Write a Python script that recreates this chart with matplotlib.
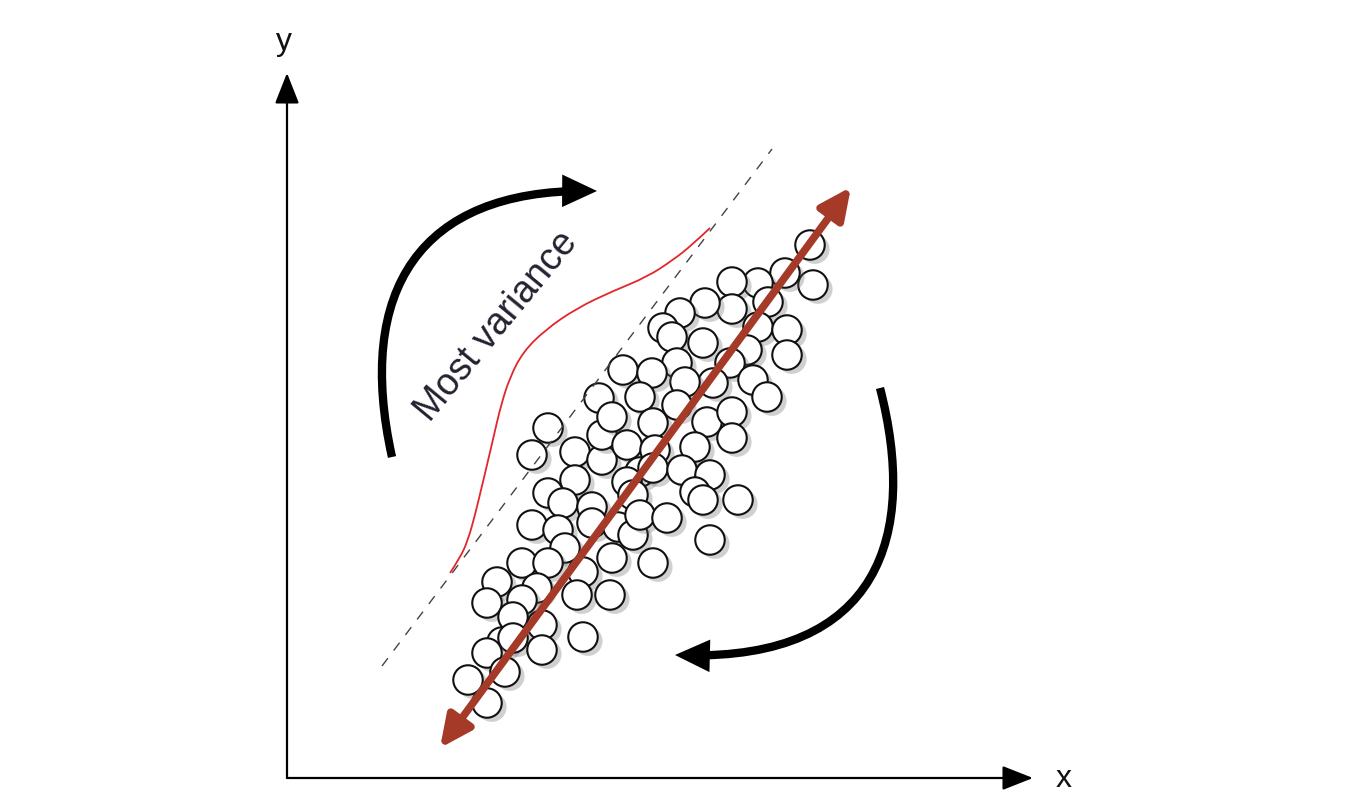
import matplotlib
matplotlib.use("Agg")
import matplotlib.pyplot as plt
from matplotlib.patches import FancyArrowPatch, PathPatch
from matplotlib.path import Path
import matplotlib.patheffects as pe

# ---- data (pixel-space diagram coordinates, y downwards) ----
circle_x = [810, 813, 785, 758, 732, 768, 732, 705, 680, 663, 672, 703, 758, 787, 787,
            747, 730, 753, 767, 713, 677, 685, 623, 652, 640, 599,
            548, 532, 575, 602, 602, 612, 627, 653, 677, 707, 732, 732, 695, 655,
            640, 653, 682, 710, 575, 548, 563, 592, 627, 633, 695, 703, 738, 532,
            558, 592, 565, 618, 633, 640, 667, 710, 522, 548, 612, 653, 583,
            497, 537, 522, 577, 610, 487, 513, 542, 583, 502, 513, 487, 542, 505,
            468, 487]
circle_y = [245, 285, 273, 283, 282, 302, 309, 303, 313, 328, 337, 343, 327, 330, 355,
            350, 363, 380, 397, 383, 363, 382, 370, 373, 397, 398,
            428, 455, 452, 460, 435, 417, 445, 423, 405, 422, 412, 438, 447, 450,
            472, 468, 470, 475, 480, 493, 503, 507, 482, 495, 492, 500, 500, 525,
            530, 523, 548, 527, 535, 515, 518, 540, 563, 563, 558, 563, 572,
            582, 588, 600, 595, 595, 603, 617, 625, 637, 642, 638, 653, 650, 672,
            680, 703]

# red distribution curve
curve_x = [450, 460, 468, 475, 481, 487, 494, 501, 510, 523, 545, 577, 613, 647, 673, 692, 710]
curve_y = [573, 558, 540, 515, 490, 465, 435, 405, 377, 352, 330, 308, 291, 277, 260, 245, 228]

# principal axis (double arrow) end points and dashed guide line
pc_start, pc_end = (440, 748), (851, 187)
dash_start, dash_end = (382, 666), (772, 149)

# axes
origin = (287, 778)
y_tip = (287, 73)
x_tip = (1033, 778)

# curved rotation arrows (cubic Bezier control points)
left_arrow = [(392, 457), (355, 290), (420, 190), (597, 191)]
right_arrow = [(880, 388), (918, 535), (880, 660), (675, 655)]

label_text = "Most variance"
label_pos = (430, 423)

# ---- figure ----
fig = plt.figure(figsize=(13.5, 8), dpi=100)
ax = fig.add_axes([0, 0, 1, 1])
ax.set_xlim(0, 1350)
ax.set_ylim(800, 0)
ax.axis("off")

FONT = ["Liberation Sans", "DejaVu Sans"]

# axes arrows
for tip in (y_tip, x_tip):
    ax.add_patch(FancyArrowPatch(origin, tip, arrowstyle="-|>,head_length=19,head_width=7.5",
                                 mutation_scale=1, lw=1.6, color="black",
                                 shrinkA=0, shrinkB=0, zorder=2))
ax.text(284, 42, "y", fontsize=23, family=FONT, ha="center", va="center", color="#111111")
ax.text(1064, 779, "x", fontsize=23, family=FONT, ha="center", va="center", color="#111111")

# circles with drop shadow
shadow = [pe.SimplePatchShadow(offset=(3.5, -3.0), shadow_rgbFace="0.4", alpha=0.3),
          pe.Normal()]
for i, (cx, cy) in enumerate(zip(circle_x, circle_y)):
    ax.scatter([cx], [cy], s=450, facecolor="white", edgecolor="#111111",
               linewidths=1.5, zorder=3 + i * 0.001, path_effects=shadow)

# dashed guide line
ax.plot([dash_start[0], dash_end[0]], [dash_start[1], dash_end[1]],
        ls=(0, (7, 7)), color="#444444", lw=1.0, zorder=4)

# red distribution curve, smoothed through control points with quadratic segments
verts = [(curve_x[0], curve_y[0])]
codes = [Path.MOVETO]
pts = list(zip(curve_x, curve_y))
for k in range(1, len(pts) - 1):
    mid = ((pts[k][0] + pts[k + 1][0]) / 2, (pts[k][1] + pts[k + 1][1]) / 2)
    if k == len(pts) - 2:
        mid = pts[k + 1]
    verts += [pts[k], mid]
    codes += [Path.CURVE3, Path.CURVE3]
ax.add_patch(PathPatch(Path(verts, codes), facecolor="none", edgecolor="#e3262b",
                       lw=1.3, zorder=4))

# principal component double arrow
ax.add_patch(FancyArrowPatch(pc_start, pc_end,
                             arrowstyle="<|-|>,head_length=19,head_width=9",
                             mutation_scale=1, lw=5.5, color="#a53a28",
                             shrinkA=0, shrinkB=0, zorder=6))

# curved black arrows
for pts_b in (left_arrow, right_arrow):
    p = Path(pts_b, [Path.MOVETO, Path.CURVE4, Path.CURVE4, Path.CURVE4])
    ax.add_patch(FancyArrowPatch(path=p, arrowstyle="-|>,head_length=15,head_width=7",
                                 mutation_scale=1, lw=6, color="black",
                                 joinstyle="miter", capstyle="butt", zorder=5))

# label
ax.text(label_pos[0], label_pos[1], label_text, fontsize=27, family=FONT,
        rotation=50.5, rotation_mode="anchor", ha="left", va="baseline",
        color="#222230", zorder=7)

fig.savefig("out.png", dpi=100, facecolor="white")
